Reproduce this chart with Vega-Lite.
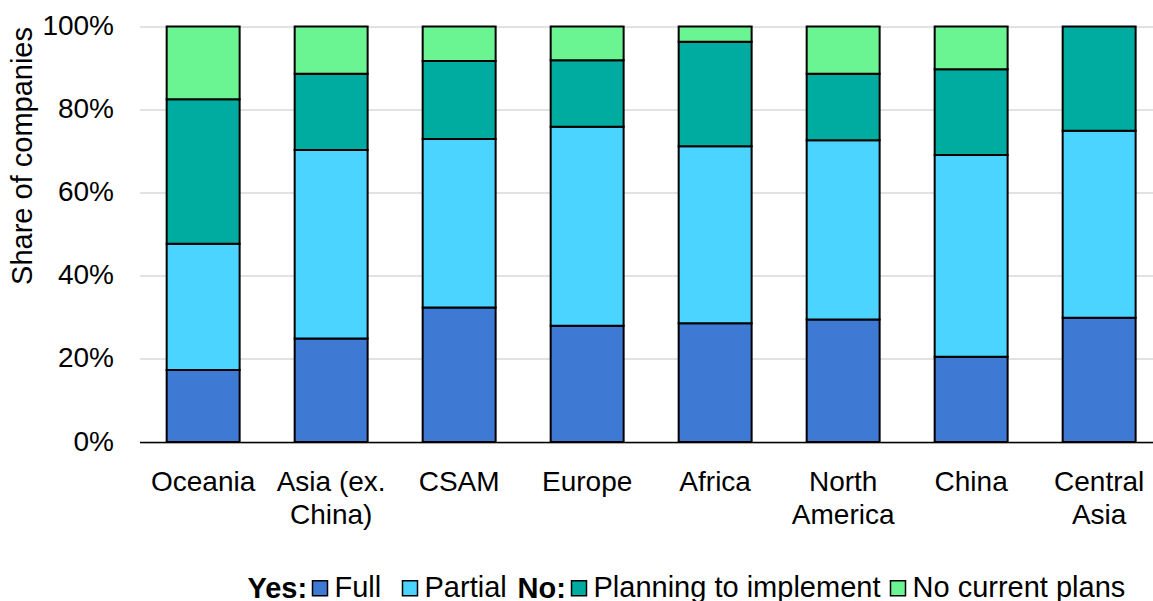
{
  "$schema": "https://vega.github.io/schema/vega-lite/v6.json",
  "autosize": "none",
  "width": 1013.5,
  "height": 415.5,
  "padding": {"left": 139.5, "top": 26.5, "right": 0, "bottom": 159},
  "config": {
    "font": "Liberation Sans",
    "view": {"stroke": null},
    "axis": {"labelColor": "black", "titleColor": "black", "labelFont": "Liberation Sans", "titleFont": "Liberation Sans"},
    "legend": {"labelFont": "Liberation Sans", "titleFont": "Liberation Sans"}
  },
  "data": {
    "values": [
      {"region": "Oceania", "category": "Full", "group": "Yes", "order": 1, "value": 17.3},
      {"region": "Oceania", "category": "Partial", "group": "Yes", "order": 2, "value": 30.4},
      {"region": "Oceania", "category": "Planning to implement", "group": "No", "order": 3, "value": 34.8},
      {"region": "Oceania", "category": "No current plans", "group": "No", "order": 4, "value": 17.5},
      {"region": "Asia (ex. China)", "category": "Full", "group": "Yes", "order": 1, "value": 24.9},
      {"region": "Asia (ex. China)", "category": "Partial", "group": "Yes", "order": 2, "value": 45.4},
      {"region": "Asia (ex. China)", "category": "Planning to implement", "group": "No", "order": 3, "value": 18.3},
      {"region": "Asia (ex. China)", "category": "No current plans", "group": "No", "order": 4, "value": 11.4},
      {"region": "CSAM", "category": "Full", "group": "Yes", "order": 1, "value": 32.4},
      {"region": "CSAM", "category": "Partial", "group": "Yes", "order": 2, "value": 40.5},
      {"region": "CSAM", "category": "Planning to implement", "group": "No", "order": 3, "value": 18.8},
      {"region": "CSAM", "category": "No current plans", "group": "No", "order": 4, "value": 8.3},
      {"region": "Europe", "category": "Full", "group": "Yes", "order": 1, "value": 28.0},
      {"region": "Europe", "category": "Partial", "group": "Yes", "order": 2, "value": 47.9},
      {"region": "Europe", "category": "Planning to implement", "group": "No", "order": 3, "value": 16.0},
      {"region": "Europe", "category": "No current plans", "group": "No", "order": 4, "value": 8.1},
      {"region": "Africa", "category": "Full", "group": "Yes", "order": 1, "value": 28.6},
      {"region": "Africa", "category": "Partial", "group": "Yes", "order": 2, "value": 42.6},
      {"region": "Africa", "category": "Planning to implement", "group": "No", "order": 3, "value": 25.1},
      {"region": "Africa", "category": "No current plans", "group": "No", "order": 4, "value": 3.7},
      {"region": "North America", "category": "Full", "group": "Yes", "order": 1, "value": 29.5},
      {"region": "North America", "category": "Partial", "group": "Yes", "order": 2, "value": 43.1},
      {"region": "North America", "category": "Planning to implement", "group": "No", "order": 3, "value": 16.0},
      {"region": "North America", "category": "No current plans", "group": "No", "order": 4, "value": 11.4},
      {"region": "China", "category": "Full", "group": "Yes", "order": 1, "value": 20.5},
      {"region": "China", "category": "Partial", "group": "Yes", "order": 2, "value": 48.6},
      {"region": "China", "category": "Planning to implement", "group": "No", "order": 3, "value": 20.6},
      {"region": "China", "category": "No current plans", "group": "No", "order": 4, "value": 10.3},
      {"region": "Central Asia", "category": "Full", "group": "Yes", "order": 1, "value": 29.9},
      {"region": "Central Asia", "category": "Partial", "group": "Yes", "order": 2, "value": 45.0},
      {"region": "Central Asia", "category": "Planning to implement", "group": "No", "order": 3, "value": 25.1}
    ]
  },
  "transform": [
    {"stack": "value", "groupby": ["region"], "sort": [{"field": "order", "order": "ascending"}], "as": ["y0", "y1"]}
  ],
  "encoding": {
    "x": {
      "field": "region", "type": "nominal",
      "sort": ["Oceania", "Asia (ex. China)", "CSAM", "Europe", "Africa", "North America", "China", "Central Asia"],
      "scale": {"paddingInner": 0.43, "paddingOuter": 0.174, "align": 0.61},
      "axis": {
        "title": null, "labelAngle": 0, "ticks": false, "labelFontSize": 28, "labelPadding": 26,
        "labelLineHeight": 33, "labelBaseline": "top", "zindex": 1,
        "domainColor": "black", "domainWidth": 1.5, "grid": false,
        "labelExpr": "datum.value == 'Asia (ex. China)' ? ['Asia (ex.', 'China)'] : datum.value == 'North America' ? ['North', 'America'] : datum.value == 'Central Asia' ? ['Central', 'Asia'] : datum.value"
      }
    },
    "y": {
      "field": "y0", "type": "quantitative",
      "scale": {"domain": [0, 100], "nice": false},
      "axis": {
        "title": "Share of companies", "titleFontSize": 29, "titleFontWeight": "normal", "titlePadding": 4, "titleAnchor": "end",
        "values": [0, 20, 40, 60, 80, 100], "labelExpr": "datum.value + '%'",
        "labelFontSize": 28, "labelPadding": 26, "ticks": false, "domain": false,
        "gridColor": "#d9d9d9", "gridWidth": 1.5
      }
    },
    "y2": {"field": "y1"}
  },
  "layer": [
    {
      "transform": [{"filter": "datum.group == 'Yes'"}],
      "mark": {"type": "bar", "stroke": "black", "strokeWidth": 2},
      "encoding": {
        "color": {
          "field": "category", "type": "nominal",
          "scale": {"domain": ["Full", "Partial"], "range": ["#3E7AD3", "#4AD4FF"]},
          "legend": {
            "title": "Yes:", "orient": "none", "legendX": 108, "legendY": 547, "direction": "horizontal",
            "titleOrient": "left", "titleFontSize": 29, "titleFontWeight": "bold", "titleColor": "black", "titlePadding": -2,
            "labelFontSize": 29, "labelColor": "black", "labelOffset": 0, "columnPadding": 14, "labelLimit": 500,
            "symbolType": "square", "symbolSize": 225, "symbolStrokeColor": "black", "symbolStrokeWidth": 1.5,
            "symbolOpacity": 1
          }
        }
      }
    },
    {
      "transform": [{"filter": "datum.group == 'No'"}],
      "mark": {"type": "bar", "stroke": "black", "strokeWidth": 2},
      "encoding": {
        "color": {
          "field": "category", "type": "nominal",
          "scale": {"domain": ["Planning to implement", "No current plans"], "range": ["#00AC9F", "#6AF592"]},
          "legend": {
            "title": "No:", "orient": "none", "legendX": 378, "legendY": 547, "direction": "horizontal",
            "titleOrient": "left", "titleFontSize": 29, "titleFontWeight": "bold", "titleColor": "black", "titlePadding": -2,
            "labelFontSize": 29, "labelColor": "black", "labelOffset": 0, "columnPadding": 3, "labelLimit": 500,
            "symbolType": "square", "symbolSize": 225, "symbolStrokeColor": "black", "symbolStrokeWidth": 1.5,
            "symbolOpacity": 1
          }
        }
      }
    }
  ],
  "resolve": {"scale": {"color": "independent"}, "legend": {"color": "independent"}}
}
